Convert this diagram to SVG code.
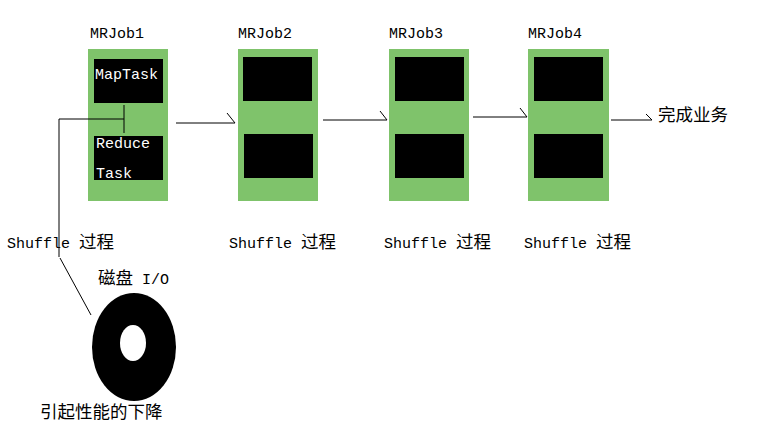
<svg xmlns="http://www.w3.org/2000/svg" width="764" height="434" viewBox="0 0 764 434">
<style>
text{font-family:"Liberation Mono","Noto Sans CJK SC",monospace;font-size:15px;fill:#000}
.c{font-size:17.5px}
.w{fill:#fff}
.g{fill:#7fc36b}
.b{fill:#000}
.ln{stroke:#000;stroke-width:1;fill:none}
</style>
<rect width="764" height="434" fill="#fff"/>
<g id="job1"><text x="90" y="38">MRJob1</text><rect class="g" x="88" y="49" width="80" height="152"/><rect class="b" x="94" y="59" width="69" height="44"/><rect class="b" x="94" y="136" width="69" height="44"/><text class="w" x="95" y="79">MapTask</text><text class="w" x="96" y="148">Reduce</text><text class="w" x="96" y="178">Task</text></g>
<g id="job2"><text x="238" y="38">MRJob2</text><rect class="g" x="238" y="49" width="80" height="152"/><rect class="b" x="243" y="57" width="69" height="44"/><rect class="b" x="244" y="134" width="69" height="44"/></g>
<g id="job3"><text x="389" y="38">MRJob3</text><rect class="g" x="389" y="49" width="80" height="152"/><rect class="b" x="395" y="57" width="69" height="44"/><rect class="b" x="395" y="134" width="69" height="44"/></g>
<g id="job4"><text x="528" y="38">MRJob4</text><rect class="g" x="528" y="49" width="81" height="152"/><rect class="b" x="534" y="57" width="69" height="44"/><rect class="b" x="534" y="134" width="69" height="44"/></g>
<g id="labels"><text x="7" y="248">Shuffle <tspan class="c">过程</tspan></text><text x="229" y="248">Shuffle <tspan class="c">过程</tspan></text><text x="384" y="248">Shuffle <tspan class="c">过程</tspan></text><text x="524" y="248">Shuffle <tspan class="c">过程</tspan></text><text class="c" x="658" y="121">完成业务</text><text x="98" y="284"><tspan class="c">磁盘</tspan> I/O</text><text class="c" x="40" y="418">引起性能的下降</text></g>
<g id="disk"><ellipse cx="134" cy="347" rx="42" ry="54" fill="#000"/><ellipse cx="133" cy="343" rx="13" ry="18" fill="#fff"/></g>
<g id="connectors" class="ln">
<path d="M124 105V133M59 119H124M59 119V257M60 258L91 315"/>
<path d="M176 123H235L227 113"/>
<path d="M323 120H387L380 111"/>
<path d="M473 117H527L520 108"/>
<path d="M611 120H652L646 114"/>
</g>
</svg>
